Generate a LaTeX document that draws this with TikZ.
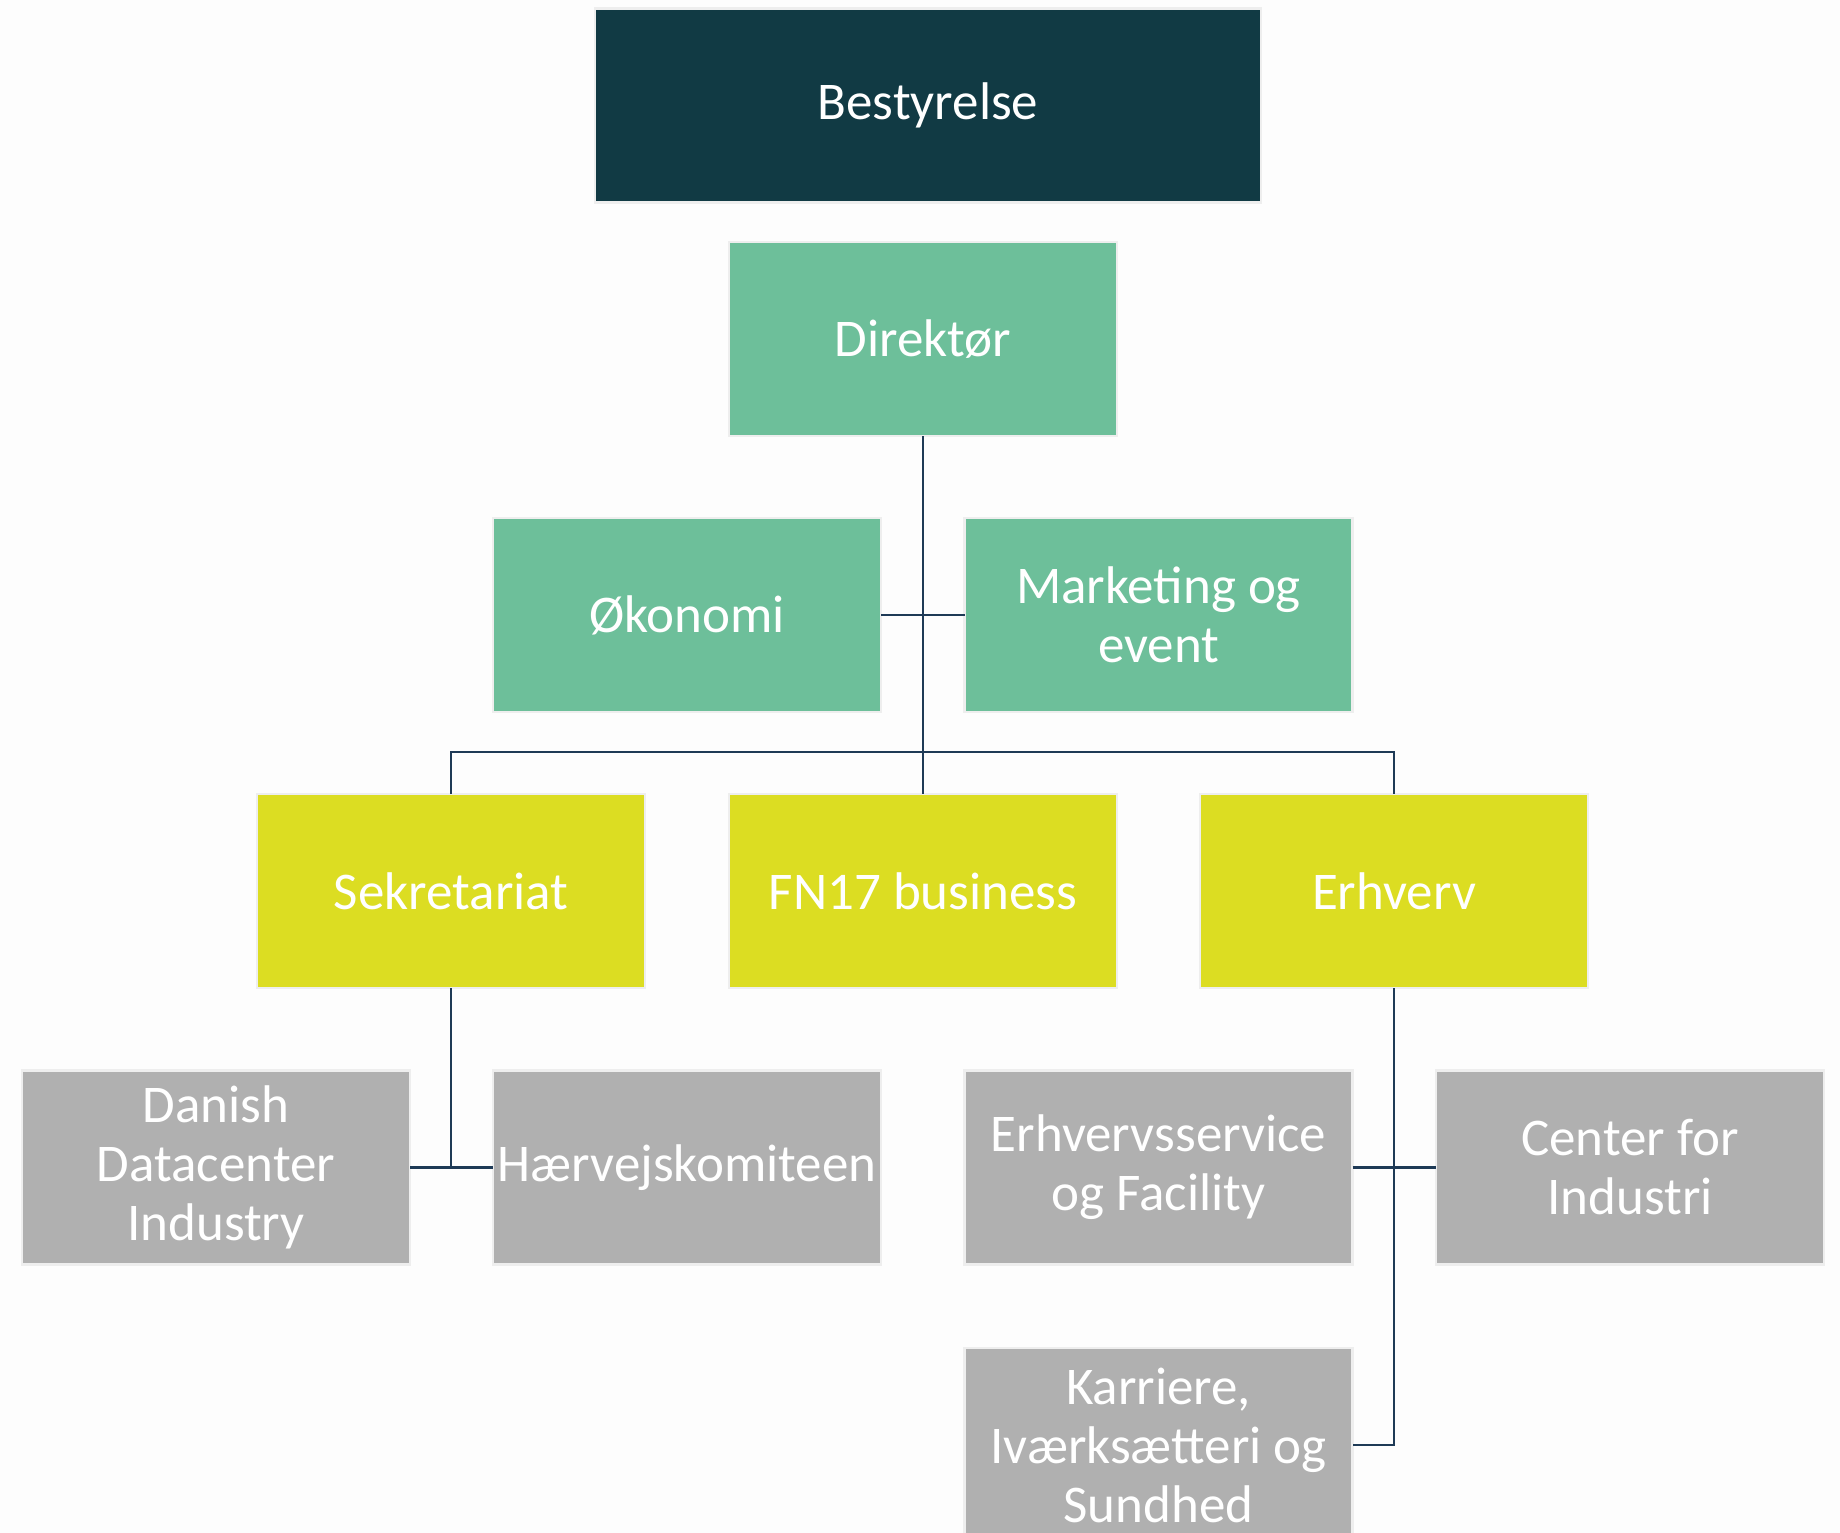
\documentclass[tikz,border=0pt]{standalone}
\usepackage{fontspec}
\setmainfont{Carlito}
\definecolor{bgc}{HTML}{FDFDFD}
\definecolor{darkc}{HTML}{113A44}
\definecolor{greenc}{HTML}{6DBF9A}
\definecolor{yellowc}{HTML}{DCDD22}
\definecolor{grayc}{HTML}{B0B0B0}
\definecolor{linec}{HTML}{1E3A56}
\definecolor{edgec}{HTML}{EEEEEE}
\tikzset{
  box/.style={rectangle, draw=edgec, line width=2.5pt, minimum width=388pt, minimum height=194pt,
    inner sep=0pt, outer sep=0pt, align=center, text=white,
    font=\fontsize{53}{59}\selectfont},
  topbox/.style={box, fill=darkc, minimum width=666pt},
  gbox/.style={box, fill=greenc},
  ybox/.style={box, fill=yellowc},
  sbox/.style={box, fill=grayc},
  conn/.style={draw=linec, line width=2.8pt}
}
\begin{document}
\begin{tikzpicture}[x=1pt,y=1pt]
\fill[bgc] (0,0) rectangle (1840,-1533);
\clip (0,0) rectangle (1840,-1533);
\node[topbox] (bes) at (928,-105.5) {Bestyrelse};
\node[gbox] (dir) at (923,-339) {Direktør};
\node[gbox] (oko) at (687,-615) {Økonomi};
\node[gbox] (mar) at (1158.5,-615) {Marketing og\\event};
\node[ybox] (sek) at (451,-891) {Sekretariat};
\node[ybox] (fn) at (923,-891) {FN17 business};
\node[ybox] (erh) at (1394,-891) {Erhverv};
\node[sbox] (dan) at (216,-1167.5) {Danish\\Datacenter\\Industry};
\node[sbox] (hae) at (687,-1167.5) {Hærvejskomiteen};
\node[sbox] (ers) at (1158.5,-1167.5) {Erhvervsservice\\og Facility};
\node[sbox] (cfi) at (1630,-1167.5) {Center for\\Industri};
\node[sbox] (kar) at (1158.5,-1445) {Karriere,\\Iværksætteri og\\Sundhed};
\coordinate (bus) at (923,-752);
\draw[conn] (dir.south) -- (fn.north);
\draw[conn] (oko.east) -- (mar.west);
\draw[conn] (sek.north) |- (bus) -| (erh.north);
\draw[conn] (sek.south) -- (sek.south |- dan.east);
\draw[conn] (dan.east) -- (hae.west);
\draw[conn] (erh.south) |- (kar.east);
\draw[conn] (ers.east) -- (cfi.west);
\end{tikzpicture}
\end{document}
